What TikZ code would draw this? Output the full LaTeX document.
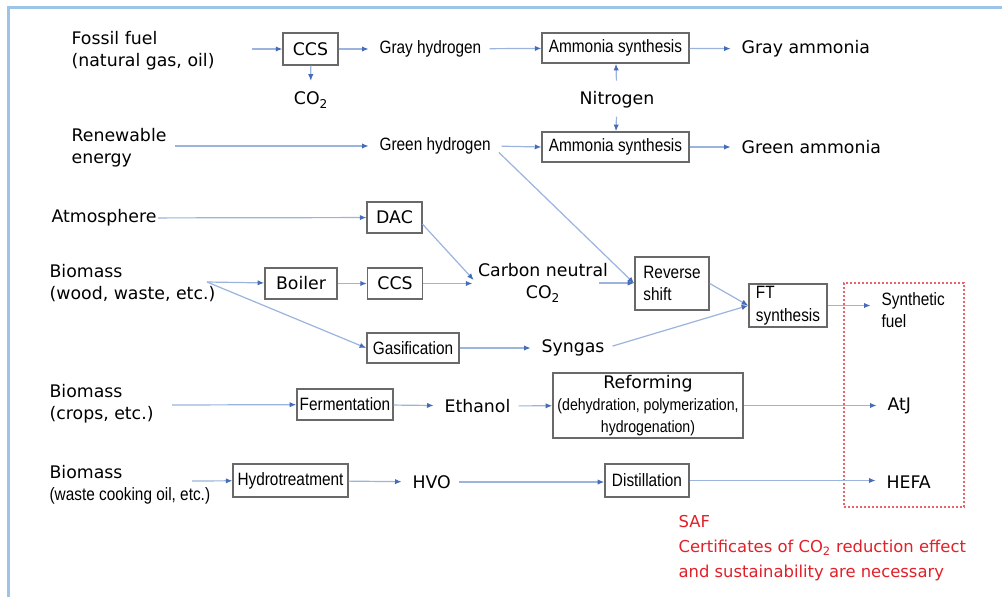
\documentclass[tikz,border=0pt]{standalone}
\usepackage{fontspec}
\setmainfont{DejaVu Sans}
\newfontfamily\narrowfont[FakeStretch=0.86]{Liberation Sans}
\usepackage{tikz}
\usetikzlibrary{arrows.meta, positioning}
\usepackage{xcolor}
\definecolor{flowline}{RGB}{155, 180, 222}
\definecolor{flowtip}{RGB}{68, 108, 185}
\definecolor{boxline}{RGB}{105, 105, 105}
\definecolor{frameblue}{RGB}{157, 195, 230}
\definecolor{safred}{RGB}{226, 32, 40}
\newcommand{\lblfont}{\fontsize{13}{16.5}\selectfont}
\newcommand{\boxfont}{\narrowfont\fontsize{13.4}{17}\selectfont}
\newcommand{\subfont}{\narrowfont\fontsize{12.3}{16}\selectfont}
\tikzset{
    term/.style={align=left, font=\lblfont, inner sep=1pt},
    narrowterm/.style={align=left, font=\boxfont, inner sep=1pt},
    procbox/.style={rectangle, draw=boxline, line width=1.1pt, fill=white, inner sep=2pt, align=center, font=\lblfont},
    narrowbox/.style={procbox, font=\boxfont},
    flow/.style={line width=0.9pt, draw=flowline, -{Latex[length=5pt, width=4pt, color=flowtip]}},
    totext/.style={shorten >=7pt},
    fromtext/.style={shorten <=5pt},
    safbox/.style={rectangle, draw=safred!70, line width=1.4pt, dash pattern=on 1.3pt off 1.7pt}
}

\begin{document}
\begin{tikzpicture}[x=0.75pt, y=-0.75pt]
    \useasboundingbox (0,0) rectangle (1002,597);
    \fill[white] (0,0) rectangle (1002,597);
    \draw[frameblue, line width=2.3pt] (8.5,597) -- (8.5,7.5) -- (1002,7.5);

    % Fossil fuel row
    \node[term, anchor=west] (fossil) at (70, 51) {Fossil fuel\\(natural gas, oil)};
    \coordinate (fossilout) at (252, 49);
    \node[procbox, minimum width=41pt, minimum height=24pt] (ccsa) at (310.5, 49) {CCS};
    \node[term] (co2a) at (311, 100) {CO\textsubscript{2}};
    \node[narrowterm, anchor=west] (grayh2) at (378, 49) {Gray hydrogen};
    \node[narrowbox, minimum width=110pt, minimum height=22.5pt] (ammgray) at (615.5, 48) {Ammonia synthesis};
    \node[term, anchor=west] (graynh3) at (740, 49) {Gray ammonia};
    \node[term] (nitrogen) at (617, 100) {Nitrogen};

    % Renewable energy row
    \node[term, anchor=west] (renew) at (70, 148) {Renewable\\energy};
    \coordinate (renewout) at (175, 146);
    \node[narrowterm, anchor=west] (greenh2) at (378, 146) {Green hydrogen};
    \node[narrowbox, minimum width=110pt, minimum height=22.5pt] (ammgreen) at (615.5, 147) {Ammonia synthesis};
    \node[term, anchor=west] (greennh3) at (740, 147) {Green ammonia};

    % Carbon neutral CO2 rows
    \node[term, anchor=west] (atmos) at (50, 218) {Atmosphere};
    \node[procbox, minimum width=41pt, minimum height=23pt] (dac) at (394.5, 217.5) {DAC};
    \node[term, anchor=west] (biowood) at (48, 283) {Biomass\\(wood, waste, etc.)};
    \coordinate (woodout) at (207, 282);
    \node[procbox, minimum width=54pt, minimum height=23pt] (boiler) at (301, 283.5) {Boiler};
    \node[procbox, minimum width=41pt, minimum height=23pt] (ccsb) at (395, 283.5) {CCS};
    \node[term, align=center] (cnco2) at (543, 283) {Carbon neutral\\CO\textsubscript{2}};
    \node[narrowbox, align=left, minimum width=55.5pt, minimum height=40pt] (rshift) at (672, 283.5) {Reverse\\shift};
    \node[narrowbox, align=left, inner sep=1pt, minimum width=58.5pt, minimum height=32pt] (ft) at (788, 305.5) {FT\\synthesis};
    \node[narrowterm, anchor=west] (synfuel) at (880, 310) {Synthetic\\fuel};
    \node[narrowbox, minimum width=69pt, minimum height=22.5pt] (gasif) at (413, 348) {Gasification};
    \node[term, anchor=west] (syngas) at (540, 348) {Syngas};

    % Ethanol row
    \node[term, anchor=west] (biocrops) at (48, 404) {Biomass\\(crops, etc.)};
    \coordinate (cropsout) at (172, 405);
    \node[narrowbox, minimum width=72pt, minimum height=23pt] (ferment) at (345, 404.5) {Fermentation};
    \node[term, anchor=west] (ethanol) at (443, 406) {Ethanol};
    \node[procbox, minimum width=142.5pt, minimum height=49pt, inner sep=1pt] (reform) at (648, 405.5)
        {Reforming\\{\subfont (dehydration, polymerization,}\\{\subfont hydrogenation)}};
    \node[term, anchor=west] (atj) at (886, 406) {AtJ};

    % HVO row
    \node[term, anchor=west] (biooil) at (48, 485) {Biomass\\{\boxfont (waste cooking oil, etc.)}};
    \coordinate (oilout) at (192, 481);
    \node[narrowbox, minimum width=86pt, minimum height=25pt] (hydro) at (290.5, 480.5) {Hydrotreatment};
    \node[term, anchor=west] (hvo) at (411, 482) {HVO};
    \node[narrowbox, minimum width=63pt, minimum height=25pt] (distil) at (647, 480.5) {Distillation};
    \node[term, anchor=west] (hefa) at (885, 482) {HEFA};

    % SAF frame and note
    \node[safbox, minimum width=90pt, minimum height=168pt] (saf) at (904, 395) {};
    \node[anchor=north west, align=left, inner sep=1pt, text=safred, font=\fontsize{12.3}{18.5}\selectfont] (safnote) at (677, 514)
        {SAF\\Certificates of CO\textsubscript{2} reduction effect\\and sustainability are necessary};

    % Arrows
    \draw[flow] (fossilout) -- (ccsa);
    \draw[flow, totext] (ccsa) -- (co2a);
    \draw[flow, totext] (ccsa) -- (grayh2);
    \draw[flow, fromtext] (grayh2) -- (ammgray);
    \draw[flow, totext] (ammgray) -- (graynh3);
    \draw[flow, shorten <=7pt] (nitrogen) -- (ammgray);
    \draw[flow, shorten <=5pt] (nitrogen) -- (ammgreen);
    \draw[flow, totext] (renewout) -- (renewout -| greenh2.west);
    \draw[flow, shorten <=7pt] (greenh2.east) -- (ammgreen.west);
    \draw[flow, totext] (ammgreen) -- (greennh3);
    \draw[flow, shorten <=7pt] (greenh2.east) -- (rshift.west);
    \draw[flow] (atmos) -- (dac);
    \draw[flow, shorten >=3pt] ([yshift=-5pt]dac.east) -- (cnco2.west);
    \draw[flow] (woodout) -- (boiler);
    \draw[flow] (woodout) -- (gasif.west);
    \draw[flow] (boiler) -- (ccsb);
    \draw[flow, shorten >=3pt] (ccsb) -- (ccsb -| cnco2.west);
    \draw[flow, shorten <=-8pt] (cnco2.east) -- (cnco2.east -| rshift.west);
    \draw[flow] (rshift.east) -- (ft.west);
    \draw[flow, fromtext] (syngas.east) -- (ft.west);
    \draw[flow, totext] (ft.east) -- (ft.east -| synfuel.west);
    \draw[flow, totext] (gasif) -- (syngas);
    \draw[flow] (cropsout) -- (ferment);
    \draw[flow, totext] (ferment) -- (ethanol);
    \draw[flow, fromtext] (ethanol) -- (reform);
    \draw[flow, totext] (reform) -- (reform -| atj.west);
    \draw[flow] (oilout) -- (hydro);
    \draw[flow, totext] (hydro) -- (hvo);
    \draw[flow, fromtext] (hvo) -- (hvo -| distil.west);
    \draw[flow, totext] (distil) -- (distil -| hefa.west);
\end{tikzpicture}
\end{document}
